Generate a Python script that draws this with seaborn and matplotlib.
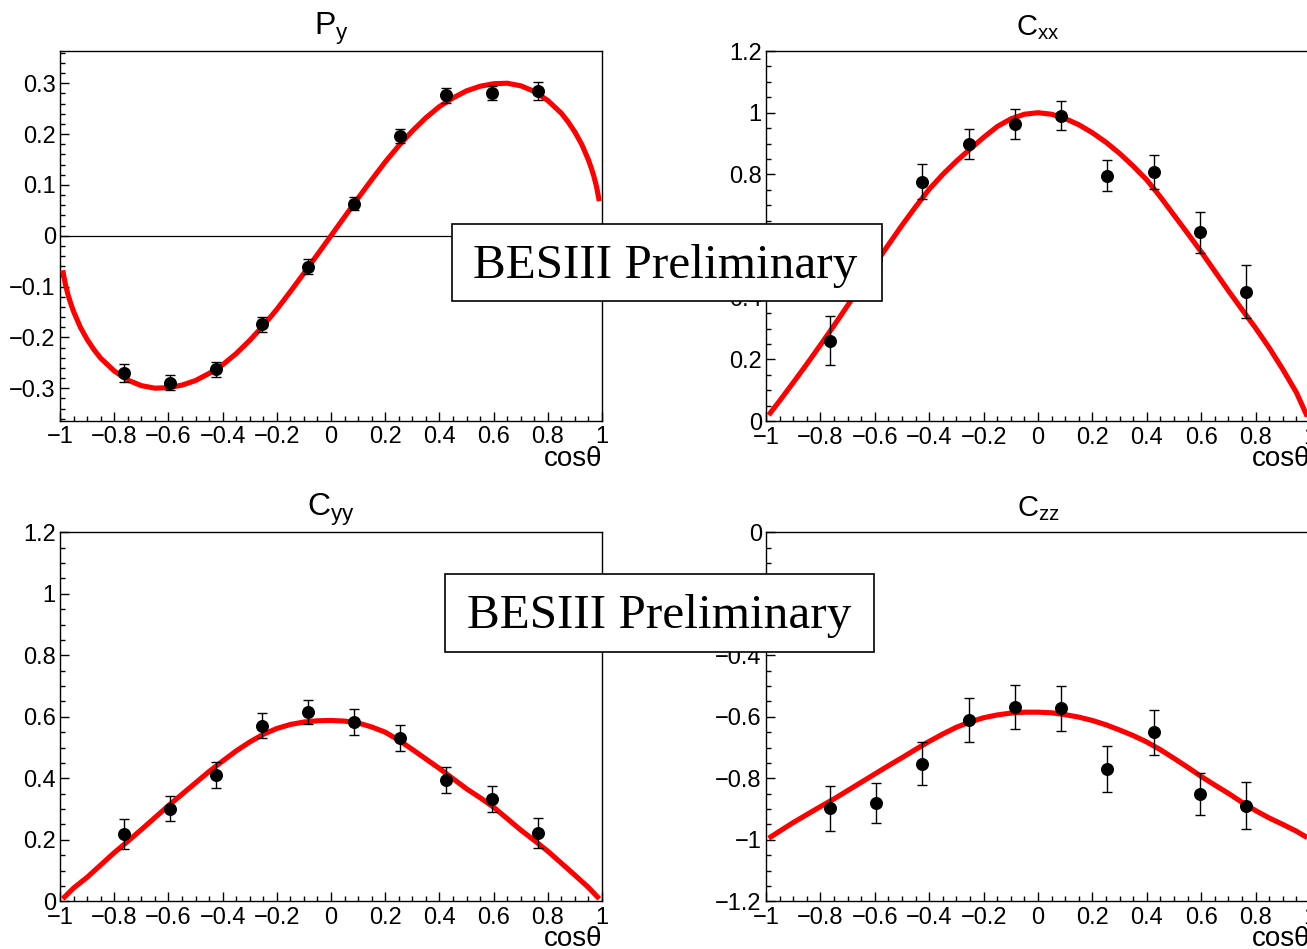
import matplotlib
matplotlib.use("Agg")
import matplotlib.pyplot as plt
from matplotlib.ticker import MultipleLocator, FuncFormatter
from matplotlib.patches import Rectangle
import seaborn as sns

# ---------------- data ----------------
cos_theta = [-0.765, -0.595, -0.425, -0.255, -0.085, 0.085, 0.255, 0.425, 0.595, 0.765]

py_val = [-0.270, -0.289, -0.263, -0.174, -0.061, 0.063, 0.196, 0.276, 0.281, 0.285]
py_err = [0.017, 0.015, 0.015, 0.015, 0.015, 0.013, 0.014, 0.014, 0.014, 0.018]

cxx_val = [0.261, 0.525, 0.776, 0.898, 0.963, 0.990, 0.796, 0.807, 0.612, 0.420]
cxx_err = [0.080, 0.065, 0.057, 0.049, 0.049, 0.047, 0.050, 0.055, 0.066, 0.085]

cyy_val = [0.218, 0.301, 0.411, 0.571, 0.615, 0.583, 0.531, 0.395, 0.333, 0.222]
cyy_err = [0.049, 0.040, 0.042, 0.040, 0.040, 0.041, 0.043, 0.043, 0.042, 0.049]

czz_val = [-0.898, -0.879, -0.752, -0.611, -0.568, -0.573, -0.770, -0.651, -0.850, -0.889]
czz_err = [0.074, 0.065, 0.069, 0.072, 0.073, 0.074, 0.074, 0.072, 0.068, 0.076]

# fitted curves
py_curve_x = [-0.99, -0.98, -0.97, -0.96, -0.95, -0.925, -0.90, -0.875, -0.85, -0.80, -0.75,
              -0.70, -0.65, -0.60, -0.55, -0.50, -0.45, -0.40, -0.35, -0.30, -0.25, -0.20,
              -0.15, -0.10, -0.05, 0.00, 0.05, 0.10, 0.15, 0.20, 0.25, 0.30, 0.35, 0.40,
              0.45, 0.50, 0.55, 0.60, 0.65, 0.70, 0.75, 0.80, 0.85, 0.875, 0.90, 0.925,
              0.95, 0.96, 0.97, 0.98, 0.99]
py_curve_y = [-0.068, -0.096, -0.117, -0.134, -0.149, -0.180, -0.204, -0.224, -0.241, -0.266, -0.284,
              -0.295, -0.300, -0.299, -0.294, -0.285, -0.271, -0.254, -0.232, -0.206, -0.177, -0.145,
              -0.110, -0.074, -0.037, 0.000, 0.037, 0.074, 0.110, 0.145, 0.177, 0.206, 0.232, 0.254,
              0.271, 0.285, 0.294, 0.299, 0.300, 0.295, 0.284, 0.266, 0.241, 0.224, 0.204, 0.180,
              0.149, 0.134, 0.117, 0.096, 0.068]

cxx_curve_x = [-0.99, -0.95, -0.90, -0.85, -0.80, -0.75, -0.70, -0.65, -0.60, -0.55, -0.50,
               -0.45, -0.40, -0.35, -0.30, -0.25, -0.20, -0.15, -0.10, -0.05, 0.00, 0.05,
               0.10, 0.15, 0.20, 0.25, 0.30, 0.35, 0.40, 0.45, 0.50, 0.55, 0.60, 0.65,
               0.70, 0.75, 0.80, 0.85, 0.90, 0.95, 0.99]
cxx_curve_y = [0.020, 0.066, 0.125, 0.185, 0.247, 0.310, 0.375, 0.441, 0.507, 0.572, 0.635,
               0.695, 0.752, 0.800, 0.843, 0.882, 0.920, 0.955, 0.980, 0.995, 1.000, 0.995,
               0.981, 0.961, 0.935, 0.904, 0.868, 0.827, 0.782, 0.727, 0.668, 0.609, 0.549, 0.486,
               0.423, 0.362, 0.302, 0.238, 0.168, 0.093, 0.015]

cyy_curve_x = [-0.99, -0.95, -0.90, -0.85, -0.80, -0.75, -0.70, -0.65, -0.60, -0.55, -0.50,
               -0.45, -0.40, -0.35, -0.30, -0.25, -0.20, -0.15, -0.10, -0.05, 0.00, 0.05,
               0.10, 0.15, 0.20, 0.25, 0.30, 0.35, 0.40, 0.45, 0.50, 0.55, 0.60, 0.65,
               0.70, 0.75, 0.80, 0.85, 0.90, 0.95, 0.99]
cyy_curve_y = [0.008, 0.043, 0.078, 0.118, 0.158, 0.195, 0.233, 0.272, 0.311, 0.348, 0.385,
               0.422, 0.456, 0.489, 0.518, 0.543, 0.562, 0.575, 0.583, 0.587, 0.588, 0.586,
               0.580, 0.567, 0.550, 0.524, 0.494, 0.463, 0.432, 0.399, 0.366, 0.337, 0.306, 0.269,
               0.232, 0.198, 0.163, 0.124, 0.085, 0.045, 0.008]

czz_curve_x = [-0.99, -0.95, -0.90, -0.85, -0.80, -0.75, -0.70, -0.65, -0.60, -0.55, -0.50,
               -0.45, -0.40, -0.35, -0.30, -0.25, -0.20, -0.15, -0.10, -0.05, 0.00, 0.05,
               0.10, 0.15, 0.20, 0.25, 0.30, 0.35, 0.40, 0.45, 0.50, 0.55, 0.60, 0.65,
               0.70, 0.75, 0.80, 0.85, 0.90, 0.95, 0.99]
czz_curve_y = [-0.995, -0.972, -0.944, -0.918, -0.892, -0.867, -0.840, -0.813, -0.786, -0.759, -0.733,
               -0.706, -0.680, -0.656, -0.634, -0.617, -0.603, -0.594, -0.588, -0.585, -0.585, -0.587,
               -0.593, -0.601, -0.612, -0.626, -0.643, -0.661, -0.682, -0.707, -0.735, -0.764, -0.794, -0.822,
               -0.849, -0.878, -0.905, -0.929, -0.950, -0.972, -0.993]

titles = [r"P$_\mathrm{y}$", r"C$_\mathrm{xx}$", r"C$_\mathrm{yy}$", r"C$_\mathrm{zz}$"]
x_label = "cos\u03b8"
watermark = "BESIII Preliminary"

# ---------------- style ----------------
sns.set_theme(style="white")
plt.rcParams["font.family"] = ["Liberation Sans", "DejaVu Sans"]
plt.rcParams["mathtext.fontset"] = "custom"
plt.rcParams["mathtext.rm"] = "Liberation Sans"
plt.rcParams["mathtext.it"] = "Liberation Sans:italic"
plt.rcParams["mathtext.bf"] = "Liberation Sans:bold"
plt.rcParams["axes.unicode_minus"] = True

W, H = 1307, 949
fig = plt.figure(figsize=(W / 100, H / 100), dpi=100)
fig.patch.set_facecolor("white")


def px_rect(left, top, right, bottom):
    return [left / W, 1 - bottom / H, (right - left) / W, (bottom - top) / H]


def fmt(v, pos):
    v = round(v, 6)
    if abs(v) < 1e-9:
        return "0"
    return f"{v:g}".replace("-", "\u2212")


panels = [
    dict(rect=px_rect(60, 50.7, 602, 420.7), ylim=(-0.364, 0.364), major=0.1, minor=0.02,
         val=py_val, err=py_err, cx=py_curve_x, cy=py_curve_y, title=titles[0], tsize=23, zero=True),
    dict(rect=px_rect(766, 51, 1310, 421.2), ylim=(0.0, 1.2), major=0.2, minor=0.05,
         val=cxx_val, err=cxx_err, cx=cxx_curve_x, cy=cxx_curve_y, title=titles[1], tsize=21, zero=False),
    dict(rect=px_rect(60, 532.3, 602, 901.3), ylim=(0.0, 1.2), major=0.2, minor=0.05,
         val=cyy_val, err=cyy_err, cx=cyy_curve_x, cy=cyy_curve_y, title=titles[2], tsize=23, zero=False),
    dict(rect=px_rect(766, 532.3, 1310, 901.3), ylim=(-1.2, 0.0), major=0.2, minor=0.05,
         val=czz_val, err=czz_err, cx=czz_curve_x, cy=czz_curve_y, title=titles[3], tsize=21, zero=False),
]

for p in panels:
    ax = fig.add_axes(p["rect"])
    ax.set_facecolor("white")
    if p["zero"]:
        ax.axhline(0, color="black", lw=0.9, zorder=1)
    sns.lineplot(x=p["cx"], y=p["cy"], ax=ax, color="#ff0000", linewidth=3.7,
                 sort=False, estimator=None, legend=False, zorder=3,
                 solid_joinstyle="round", solid_capstyle="butt")
    ax.errorbar(cos_theta, p["val"], yerr=p["err"], fmt="none", ecolor="black",
                elinewidth=1.0, capsize=3.8, capthick=1.0, zorder=4)
    sns.scatterplot(x=cos_theta, y=p["val"], ax=ax, color="black", s=88,
                    linewidth=0, legend=False, zorder=5)
    ax.set_xlim(-1, 1)
    ax.set_ylim(*p["ylim"])
    ax.xaxis.set_major_locator(MultipleLocator(0.2))
    ax.xaxis.set_minor_locator(MultipleLocator(0.05))
    ax.yaxis.set_major_locator(MultipleLocator(p["major"]))
    ax.yaxis.set_minor_locator(MultipleLocator(p["minor"]))
    ax.xaxis.set_major_formatter(FuncFormatter(fmt))
    ax.yaxis.set_major_formatter(FuncFormatter(fmt))
    ax.tick_params(which="both", direction="in", bottom=True, left=True,
                   top=False, right=False,
                   color="black", width=1.0, labelsize=17, labelcolor="black")
    ax.tick_params(which="major", length=6.5)
    ax.tick_params(which="minor", length=3.5)
    ax.tick_params(axis="x", which="major", pad=4)
    ax.tick_params(axis="y", which="major", pad=3)
    for s in ax.spines.values():
        s.set_visible(True)
        s.set_color("black")
        s.set_linewidth(1.0)
    ax.set_xlabel("")
    ax.set_ylabel("")
    ax.annotate(p["title"], xy=(0.5, 1.0), xycoords="axes fraction",
                xytext=(0, 16), textcoords="offset pixels",
                ha="center", va="baseline", fontsize=p["tsize"], color="black",
                annotation_clip=False)
    ax.annotate(x_label, xy=(1.0, 0.0), xycoords="axes fraction",
                xytext=(0, -45), textcoords="offset pixels",
                ha="right", va="baseline", fontsize=20, color="black",
                annotation_clip=False)

# "BESIII Preliminary" boxes drawn on top of everything
boxes = [(452.3, 224.0, 881.7, 300.7, 665.0, 278.3),
         (445.0, 574.3, 874.3, 651.7, 659.0, 628.3)]
for (l, t, r, b, tx, ty) in boxes:
    rect = Rectangle((l / W, 1 - b / H), (r - l) / W, (b - t) / H,
                     transform=fig.transFigure, facecolor="white",
                     edgecolor="black", linewidth=1.2, zorder=20)
    fig.add_artist(rect)
    fig.text(tx / W, 1 - ty / H, watermark, ha="center", va="baseline",
             fontsize=35.5, family=["Liberation Serif", "DejaVu Serif"],
             color="black", zorder=21)

fig.savefig("out.png", dpi=100, facecolor="white")
